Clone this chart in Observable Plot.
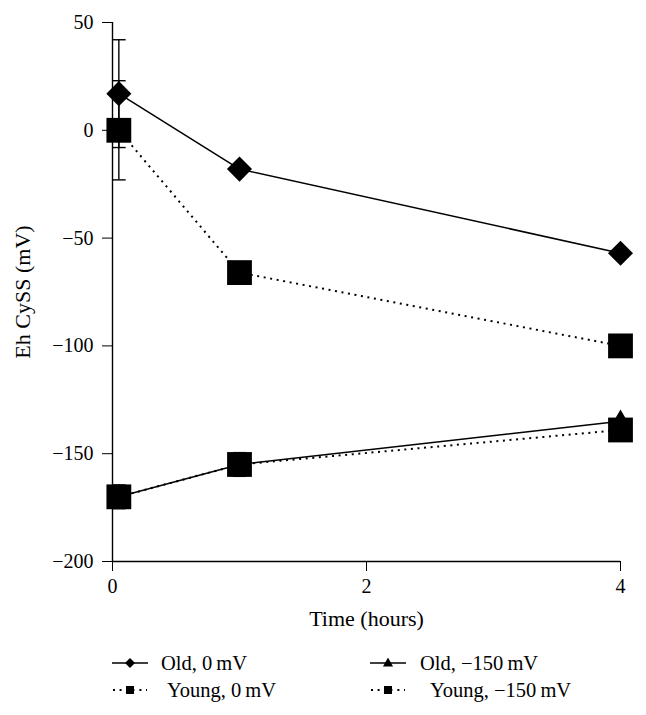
<!DOCTYPE html>
<html><head><meta charset="utf-8">
<script src="https://cdn.jsdelivr.net/npm/d3@7"></script>
<script src="https://cdn.jsdelivr.net/npm/@observablehq/plot@0.6"></script>
<style>
body{margin:0;background:#fff;font-family:"Liberation Serif",serif;color:#000;}
#legend{position:relative;height:75px;font-size:20.5px;}
.item{position:absolute;height:26px;line-height:26px;white-space:nowrap;}
.item svg{position:absolute;left:0;top:6px;}
.item span{position:absolute;top:0;}
</style></head><body>
<div id="chart"></div>
<div id="legend"></div>
<script>
// Data
const times = [0.05, 1, 4];
const seriesNames = ["Old, 0\u2009mV", "Young, 0\u2009mV", "Old, \u2212150\u2009mV", "Young, \u2212150\u2009mV"];
const oldZero = [17, -18, -57];
const youngZero = [0, -66, -100];
const oldNeg = [-170, -155, -135];
const youngNeg = [-170, -155, -139];
const oldZeroErr = [25, 0, 0];
const youngZeroErr = [23, 0, 0];
const oldNegErr = [0, 0, 0];
const youngNegErr = [5.5, 5.5, 0];
const xTicks = [0, 2, 4];
const yTicks = [50, 0, -50, -100, -150, -200];
const xLabel = "Time (hours)";
const yLabel = "Eh CySS (mV)";

const seriesDefs = [
  {name: seriesNames[0], values: oldZero, err: oldZeroErr, symbol: "diamond2", r: 11.3, dotted: false},
  {name: seriesNames[1], values: youngZero, err: youngZeroErr, symbol: "square", r: 14, dotted: true},
  {name: seriesNames[2], values: oldNeg, err: oldNegErr, symbol: "triangle", r: 7.7, dotted: false},
  {name: seriesNames[3], values: youngNeg, err: youngNegErr, symbol: "square", r: 14, dotted: true}
];
const rows = seriesDefs.flatMap(s => times.map((t, i) => ({series: s.name, t, v: s.values[i], e: s.err[i]})));
const errRows = rows.filter(d => d.e > 0);

const cap = {draw(ctx, size) { const w = Math.sqrt(size / Math.PI); ctx.moveTo(-w, 0); ctx.lineTo(w, 0); }};

const lineMarks = seriesDefs.map(s => Plot.line(rows.filter(d => d.series === s.name), {
  x: "t", y: "v", stroke: "black",
  strokeWidth: s.dotted ? 2 : 1.5,
  strokeLinecap: "butt",
  strokeDasharray: s.dotted ? "2,4.6" : null
}));
// draw order for markers: triangles first, then others
const dotOrder = [seriesDefs[2], seriesDefs[0], seriesDefs[1], seriesDefs[3]];
const dotMarks = dotOrder.map(s => Plot.dot(rows.filter(d => d.series === s.name), {
  x: "t", y: "v", symbol: () => s.symbol, r: s.r, fill: "black", stroke: "none"
}));

const chart = Plot.plot({
  width: 646, height: 640,
  marginTop: 22, marginBottom: 79, marginLeft: 112, marginRight: 26,
  style: {fontFamily: "'Liberation Serif', serif", fontSize: "20px", color: "black", background: "white"},
  x: {domain: [0, 4], ticks: xTicks, tickFormat: d3.format("d"), tickSize: 10, tickPadding: 7, label: null},
  y: {domain: [-200, 50], ticks: yTicks, tickFormat: d => d3.format("d")(d).replace("-", "\u2212"), tickSize: 10, tickPadding: 9, label: null},
  marks: [
    Plot.ruleX([0], {stroke: "black", strokeWidth: 1.4}),
    Plot.ruleY([-200], {stroke: "black", strokeWidth: 1.4}),
    ...lineMarks,
    Plot.ruleX(errRows, {x: "t", y1: d => d.v - d.e, y2: d => d.v + d.e, stroke: "black", strokeWidth: 1.4}),
    Plot.dot(errRows, {x: "t", y: d => d.v - d.e, symbol: () => cap, r: 6.8, fill: "none", stroke: "black", strokeWidth: 1.4}),
    Plot.dot(errRows, {x: "t", y: d => d.v + d.e, symbol: () => cap, r: 6.8, fill: "none", stroke: "black", strokeWidth: 1.4}),
    ...dotMarks,
    Plot.text([xLabel], {text: d => d, frameAnchor: "bottom", textAnchor: "middle", dy: 64, fontSize: 22, fill: "black"}),
    Plot.text([yLabel], {text: d => d, frameAnchor: "left", textAnchor: "middle", dx: -90, rotate: -90, fontSize: 22, fill: "black"})
  ]
});
document.getElementById("chart").appendChild(chart);

// Legend
const legendPos = [
  {left: 112, top: 10, textX: 49},
  {left: 112, top: 37, textX: 55},
  {left: 370, top: 10, textX: 50},
  {left: 370, top: 37, textX: 60}
];
function swatch(s) {
  const line = s.dotted
    ? `<line x1="1" y1="7" x2="35" y2="7" stroke="black" stroke-width="2" stroke-dasharray="2,4.6"/>`
    : `<line x1="0" y1="7" x2="36" y2="7" stroke="black" stroke-width="1.5"/>`;
  let mk;
  if (s.symbol === "diamond2") mk = `<path d="M18,2L23,7L18,12L13,7Z" fill="black"/>`;
  else if (s.symbol === "triangle") mk = `<path d="M18,1.5L23,10.5L13,10.5Z" fill="black"/>`;
  else mk = `<rect x="13.5" y="2.5" width="9" height="9" fill="white"/><rect x="14" y="3" width="8" height="8" fill="black"/>`;
  return `<svg width="36" height="14">${line}${mk}</svg>`;
}
const legend = document.getElementById("legend");
seriesDefs.forEach((s, i) => {
  const p = legendPos[i];
  const div = document.createElement("div");
  div.className = "item";
  div.style.left = p.left + "px";
  div.style.top = p.top + "px";
  div.innerHTML = swatch(s) + `<span style="left:${p.textX}px">${s.name}</span>`;
  legend.appendChild(div);
});
</script>
</body></html>
